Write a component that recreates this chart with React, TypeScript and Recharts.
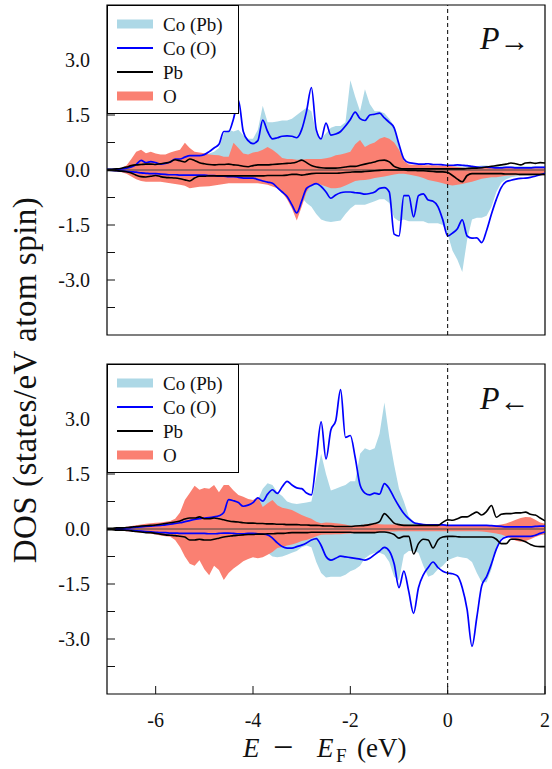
import React from 'react';
import {
  ComposedChart,
  Area,
  Line,
  XAxis,
  YAxis,
  ReferenceLine,
  ReferenceArea,
  Legend,
} from 'recharts';

const FONT = "'Liberation Serif', 'Times New Roman', 'DejaVu Serif', serif";
const LIGHT_BLUE = '#ADD8E6';
const BLUE = '#0000FF';
const SALMON = '#FA8072';
const INK = '#111';
const txt = { fontFamily: FONT };

// energy grid, E - E_F in eV
const energy = [
  -7.0, -6.9, -6.8, -6.7, -6.6, -6.5, -6.4, -6.3, -6.2, -6.1,
  -6.0, -5.9, -5.8, -5.7, -5.6, -5.5, -5.4, -5.3, -5.2, -5.1,
  -5.0, -4.9, -4.8, -4.7, -4.6, -4.5, -4.4, -4.3, -4.2, -4.1,
  -4.0, -3.9, -3.8, -3.7, -3.6, -3.5, -3.4, -3.3, -3.2, -3.1,
  -3.0, -2.9, -2.8, -2.7, -2.6, -2.5, -2.4, -2.3, -2.2, -2.1,
  -2.0, -1.9, -1.8, -1.7, -1.6, -1.5, -1.4, -1.3, -1.2, -1.1,
  -1.0, -0.9, -0.8, -0.7, -0.6, -0.5, -0.4, -0.3, -0.2, -0.1,
  0.0, 0.1, 0.2, 0.3, 0.4, 0.5, 0.6, 0.7, 0.8, 0.9,
  1.0, 1.1, 1.2, 1.3, 1.4, 1.5, 1.6, 1.7, 1.8, 1.9,
  2.0,
];

// ---- P-> panel (top) ----
const topCoPbUp = [
  0.01, 0.01, 0.02, 0.03, 0.05, 0.08, 0.12, 0.15, 0.15, 0.16,
  0.18, 0.2, 0.2, 0.22, 0.25, 0.27, 0.3, 0.3, 0.32, 0.35,
  0.38, 0.45, 0.5, 0.6, 1.0, 1.1, 1.05, 1.1, 0.95, 0.85,
  0.85, 1.1, 1.75, 1.3, 1.3, 1.32, 1.35, 1.35, 1.4, 1.5,
  1.6, 1.7, 1.6, 1.0, 0.85, 1.0, 1.15, 1.2, 1.2, 1.3,
  2.45, 2.0, 1.6, 2.2, 1.8, 1.6, 1.6, 1.55, 1.4, 1.2,
  0.7, 0.2, 0.12, 0.1, 0.1, 0.1, 0.1, 0.1, 0.1, 0.1,
  0.1, 0.1, 0.1, 0.1, 0.1, 0.1, 0.1, 0.12, 0.12, 0.1,
  0.1, 0.1, 0.1, 0.1, 0.1, 0.1, 0.1, 0.1, 0.1, 0.1,
  0.1,
];
const topCoPbDn = [
  -0.01, -0.01, -0.02, -0.03, -0.04, -0.05, -0.07, -0.1, -0.12, -0.13,
  -0.14, -0.15, -0.16, -0.17, -0.18, -0.2, -0.22, -0.24, -0.25, -0.26,
  -0.27, -0.28, -0.28, -0.3, -0.3, -0.3, -0.3, -0.3, -0.3, -0.3,
  -0.3, -0.32, -0.34, -0.36, -0.38, -0.4, -0.45, -0.5, -0.55, -0.65,
  -0.75, -0.9, -1.0, -1.2, -1.35, -1.4, -1.42, -1.4, -1.38, -1.2,
  -1.05, -0.95, -0.95, -0.95, -0.9, -0.85, -0.8, -0.8, -0.9, -1.3,
  -1.4, -1.35, -1.4, -1.4, -1.4, -1.4, -1.45, -1.45, -1.45, -1.5,
  -1.75, -2.2, -2.45, -2.78, -1.9, -1.35, -1.3, -1.3, -1.25, -1.0,
  -0.6, -0.35, -0.25, -0.2, -0.18, -0.16, -0.15, -0.15, -0.14, -0.14,
  -0.14,
];
const topCoOUp = [
  0.02, 0.02, 0.02, 0.03, 0.05, 0.08, 0.15, 0.26, 0.2, 0.23,
  0.2, 0.16, 0.18, 0.22, 0.3, 0.3, 0.35, 0.39, 0.39, 0.39,
  0.42, 0.5, 0.6, 0.7, 1.05, 1.05, 1.4, 1.9, 1.05, 0.8,
  0.72, 0.8, 1.36, 1.05, 0.85, 0.88, 0.92, 0.93, 0.92, 0.88,
  1.1, 1.6, 2.25, 1.1, 0.85, 1.28, 0.95, 0.98, 1.05, 1.2,
  1.38, 1.58, 1.4, 1.35, 1.5, 1.52, 1.55, 1.42, 1.3, 1.15,
  0.7, 0.3, 0.2, 0.18, 0.16, 0.16, 0.17, 0.15, 0.15, 0.14,
  0.13, 0.13, 0.14, 0.13, 0.12, 0.1, 0.08, 0.07, 0.08, 0.07,
  0.06, 0.06, 0.07, 0.07, 0.06, 0.06, 0.06, 0.06, 0.07, 0.07,
  0.07,
];
const topCoODn = [
  0, -0.01, -0.02, -0.03, -0.04, -0.05, -0.06, -0.08, -0.09, -0.1,
  -0.1, -0.11, -0.12, -0.13, -0.13, -0.14, -0.14, -0.14, -0.14, -0.14,
  -0.14, -0.15, -0.15, -0.17, -0.17, -0.18, -0.18, -0.2, -0.22, -0.22,
  -0.22, -0.26, -0.3, -0.33, -0.36, -0.48, -0.6, -0.72, -0.95, -1.17,
  -0.85, -0.5, -0.42, -0.37, -0.45, -0.6, -0.77, -0.68, -0.62, -0.6,
  -0.6, -0.62, -0.63, -0.66, -0.64, -0.6, -0.5, -0.48, -0.6, -1.75,
  -1.8, -0.7, -0.7, -1.28, -0.7, -0.65, -0.82, -0.85, -1.0, -1.36,
  -1.8, -1.72, -1.6, -1.36, -1.8, -1.86, -1.85, -1.98, -1.65, -1.2,
  -0.8, -0.48, -0.32, -0.28, -0.25, -0.23, -0.22, -0.2, -0.17, -0.13,
  -0.09,
];
const topPbUp = [
  0.02, 0.02, 0.03, 0.05, 0.08, 0.12, 0.14, 0.15, 0.16, 0.16,
  0.15, 0.17, 0.19, 0.22, 0.28, 0.25, 0.22, 0.3, 0.26, 0.2,
  0.17, 0.15, 0.14, 0.15, 0.15, 0.16, 0.14, 0.13, 0.1, 0.09,
  0.12, 0.14, 0.14, 0.14, 0.15, 0.16, 0.17, 0.18, 0.19, 0.22,
  0.27, 0.2, 0.12, 0.08, 0.06, 0.05, 0.05, 0.05, 0.06, 0.08,
  0.1, 0.1, 0.13, 0.16, 0.19, 0.22, 0.26, 0.27, 0.22, 0.1,
  0.05, 0.03, 0.03, 0.03, 0.03, 0.03, 0.03, 0.03, 0.03, 0.03,
  0.03, 0.03, 0.03, 0.03, 0.04, 0.05, 0.05, 0.06, 0.08, 0.1,
  0.12, 0.14, 0.16, 0.19, 0.17, 0.14, 0.19, 0.2, 0.18, 0.2,
  0.19,
];
const topPbDn = [
  -0.01, -0.01, -0.02, -0.03, -0.05, -0.08, -0.14, -0.18, -0.19, -0.17,
  -0.15, -0.18, -0.2, -0.21, -0.22, -0.24, -0.27, -0.3, -0.22, -0.17,
  -0.17, -0.16, -0.16, -0.16, -0.16, -0.16, -0.16, -0.16, -0.16, -0.16,
  -0.16, -0.16, -0.16, -0.15, -0.15, -0.15, -0.15, -0.14, -0.12, -0.12,
  -0.14, -0.12, -0.1, -0.09, -0.09, -0.09, -0.09, -0.09, -0.08, -0.07,
  -0.06, -0.05, -0.05, -0.04, -0.03, -0.02, -0.01, 0, 0, 0,
  0, 0, -0.01, -0.01, -0.02, -0.02, -0.03, -0.04, -0.05, -0.05,
  -0.07, -0.15, -0.25, -0.32, -0.15, -0.1, -0.1, -0.1, -0.1, -0.1,
  -0.1, -0.1, -0.11, -0.11, -0.11, -0.12, -0.12, -0.12, -0.12, -0.12,
  -0.12,
];
const topOUp = [
  0.03, 0.03, 0.04, 0.06, 0.12, 0.3, 0.5, 0.55, 0.46, 0.5,
  0.45, 0.42, 0.42, 0.48, 0.52, 0.55, 0.74, 0.6, 0.5, 0.48,
  0.46, 0.42, 0.41, 0.4, 0.36, 0.36, 0.74, 0.6, 0.45, 0.42,
  0.48, 0.5, 0.55, 0.63, 0.55, 0.45, 0.33, 0.3, 0.3, 0.28,
  0.28, 0.3, 0.3, 0.3, 0.3, 0.32, 0.35, 0.4, 0.42, 0.46,
  0.5, 0.7, 0.82, 0.63, 0.7, 0.75, 0.85, 0.9, 0.85, 0.75,
  0.55, 0.25, 0.15, 0.14, 0.14, 0.13, 0.13, 0.13, 0.12, 0.12,
  0.12, 0.1, 0.08, 0.07, 0.06, 0.06, 0.06, 0.06, 0.06, 0.06,
  0.06, 0.06, 0.06, 0.06, 0.06, 0.05, 0.05, 0.05, 0.05, 0.05,
  0.05,
];
const topODn = [
  -0.02, -0.03, -0.04, -0.06, -0.1, -0.18, -0.25, -0.3, -0.32, -0.32,
  -0.32, -0.32, -0.34, -0.36, -0.38, -0.4, -0.43, -0.5, -0.48, -0.46,
  -0.45, -0.44, -0.42, -0.4, -0.38, -0.36, -0.36, -0.36, -0.36, -0.36,
  -0.36, -0.36, -0.38, -0.4, -0.45, -0.5, -0.62, -0.8, -1.05, -1.38,
  -1.0, -0.6, -0.4, -0.36, -0.4, -0.45, -0.5, -0.5, -0.48, -0.42,
  -0.36, -0.3, -0.28, -0.27, -0.25, -0.22, -0.2, -0.18, -0.15, -0.12,
  -0.1, -0.1, -0.12, -0.15, -0.18, -0.22, -0.27, -0.3, -0.33, -0.36,
  -0.4, -0.42, -0.4, -0.38, -0.35, -0.32, -0.28, -0.24, -0.22, -0.2,
  -0.2, -0.18, -0.16, -0.15, -0.14, -0.14, -0.14, -0.14, -0.14, -0.14,
  -0.14,
];

// ---- P<- panel (bottom) ----
const botCoPbUp = [
  0.0, 0.01, 0.01, 0.02, 0.03, 0.04, 0.05, 0.06, 0.07, 0.08,
  0.09, 0.1, 0.12, 0.14, 0.16, 0.2, 0.25, 0.3, 0.32, 0.35,
  0.38, 0.4, 0.42, 0.45, 0.5, 0.55, 0.6, 0.62, 0.65, 0.68,
  0.72, 0.8, 1.1, 1.25, 1.2, 1.0, 0.9, 0.75, 0.7, 0.68,
  0.7, 0.72, 0.75, 1.4, 2.05, 1.5, 1.05, 1.1, 1.15, 1.2,
  1.3, 1.3, 2.05, 2.2, 2.15, 2.2, 2.6, 3.45, 2.5, 1.75,
  1.1, 0.75, 0.35, 0.2, 0.15, 0.12, 0.1, 0.1, 0.1, 0.1,
  0.08, 0.08, 0.08, 0.08, 0.07, 0.07, 0.07, 0.07, 0.07, 0.07,
  0.07, 0.07, 0.07, 0.07, 0.07, 0.07, 0.07, 0.07, 0.07, 0.07,
  0.07,
];
const botCoPbDn = [
  0, -0.01, -0.01, -0.02, -0.03, -0.04, -0.05, -0.06, -0.07, -0.08,
  -0.09, -0.1, -0.12, -0.14, -0.16, -0.2, -0.25, -0.28, -0.3, -0.32,
  -0.33, -0.34, -0.35, -0.36, -0.36, -0.36, -0.36, -0.36, -0.36, -0.36,
  -0.38, -0.4, -0.5, -0.65, -0.75, -0.77, -0.75, -0.7, -0.65, -0.6,
  -0.5, -0.45, -0.5, -0.9, -1.2, -1.32, -1.3, -1.3, -1.3, -1.25,
  -1.15, -1.1, -1.0, -0.8, -0.7, -0.65, -0.65, -0.7, -0.9, -1.3,
  -1.4, -0.7, -0.6, -0.6, -0.65, -1.0, -1.3, -1.25, -1.1, -1.0,
  -0.85, -0.8, -0.75, -0.78, -0.8, -0.9, -1.2, -1.45, -1.45, -1.1,
  -0.5, -0.25, -0.18, -0.16, -0.15, -0.15, -0.15, -0.15, -0.15, -0.15,
  -0.15,
];
const botCoOUp = [
  0, 0, 0.01, 0.02, 0.03, 0.04, 0.05, 0.06, 0.07, 0.08,
  0.09, 0.1, 0.11, 0.13, 0.15, 0.17, 0.2, 0.23, 0.26, 0.28,
  0.3, 0.31, 0.33, 0.36, 0.45, 0.8, 0.77, 0.72, 0.62, 0.65,
  0.72, 0.85, 0.76, 0.95, 1.07, 0.97, 1.15, 1.3, 1.2, 1.12,
  1.1, 0.98, 0.93, 1.9, 2.92, 1.91, 2.7, 2.95, 3.8, 2.5,
  2.55, 1.95, 1.2, 0.98, 0.93, 0.98, 0.95, 1.24, 1.1, 0.85,
  0.62, 0.42, 0.28, 0.18, 0.14, 0.12, 0.11, 0.11, 0.11, 0.11,
  0.1, 0.1, 0.1, 0.1, 0.1, 0.1, 0.1, 0.1, 0.1, 0.09,
  0.08, 0.07, 0.06, 0.06, 0.06, 0.06, 0.06, 0.06, 0.07, 0.08,
  0.08,
];
const botCoODn = [
  0, 0, -0.01, -0.02, -0.03, -0.04, -0.05, -0.06, -0.07, -0.08,
  -0.09, -0.1, -0.1, -0.11, -0.11, -0.12, -0.12, -0.12, -0.12, -0.12,
  -0.12, -0.13, -0.13, -0.12, -0.11, -0.11, -0.12, -0.13, -0.13, -0.12,
  -0.12, -0.13, -0.14, -0.16, -0.25, -0.38, -0.48, -0.52, -0.52, -0.48,
  -0.44, -0.38, -0.3, -0.26, -0.45, -0.75, -0.85, -0.8, -0.74, -0.76,
  -0.78, -0.8, -0.82, -0.85, -0.8, -0.7, -0.6, -0.5, -0.6, -0.95,
  -1.6, -1.15, -1.7, -2.3, -1.6, -1.25, -1.05, -0.9, -1.05, -1.15,
  -1.2, -1.22, -1.28, -1.6, -2.2, -3.2, -2.4, -1.55, -1.3, -0.95,
  -0.55, -0.3, -0.22, -0.2, -0.2, -0.2, -0.2, -0.2, -0.17, -0.12,
  -0.08,
];
const botPbUp = [
  0.02, 0.02, 0.03, 0.03, 0.04, 0.05, 0.07, 0.08, 0.09, 0.1,
  0.11, 0.13, 0.15, 0.17, 0.19, 0.22, 0.27, 0.3, 0.3, 0.33,
  0.28, 0.28, 0.3, 0.28, 0.25, 0.22, 0.2, 0.19, 0.17, 0.16,
  0.16, 0.15, 0.15, 0.14, 0.14, 0.13, 0.13, 0.12, 0.12, 0.12,
  0.11, 0.11, 0.1, 0.1, 0.09, 0.08, 0.08, 0.07, 0.07, 0.07,
  0.07, 0.08, 0.09, 0.1, 0.12, 0.15, 0.2, 0.42, 0.3, 0.16,
  0.12, 0.1, 0.1, 0.1, 0.1, 0.1, 0.1, 0.1, 0.1, 0.18,
  0.25, 0.24, 0.28, 0.33, 0.33, 0.4, 0.46, 0.38, 0.48, 0.64,
  0.32, 0.4, 0.42, 0.42, 0.44, 0.44, 0.46, 0.4, 0.38, 0.3,
  0.22,
];
const botPbDn = [
  -0.02, -0.02, -0.03, -0.03, -0.04, -0.05, -0.07, -0.08, -0.1, -0.1,
  -0.12, -0.14, -0.16, -0.17, -0.18, -0.2, -0.22, -0.3, -0.3, -0.28,
  -0.3, -0.3, -0.28, -0.25, -0.22, -0.2, -0.18, -0.17, -0.16, -0.15,
  -0.15, -0.14, -0.14, -0.13, -0.13, -0.12, -0.12, -0.11, -0.1, -0.1,
  -0.1, -0.1, -0.09, -0.09, -0.09, -0.09, -0.09, -0.09, -0.09, -0.09,
  -0.09, -0.1, -0.1, -0.1, -0.1, -0.1, -0.08, -0.08, -0.1, -0.15,
  -0.25, -0.2, -0.2, -0.68, -0.4, -0.28, -0.3, -0.52, -0.3, -0.22,
  -0.2, -0.2, -0.21, -0.22, -0.22, -0.22, -0.22, -0.22, -0.22, -0.22,
  -0.28, -0.4, -0.4, -0.28, -0.28, -0.3, -0.35, -0.42, -0.47, -0.48,
  -0.48,
];
const botOUp = [
  0.01, 0.02, 0.03, 0.04, 0.06, 0.08, 0.1, 0.12, 0.14, 0.16,
  0.17, 0.18, 0.2, 0.22, 0.28, 0.45, 0.79, 0.98, 1.18, 1.07,
  1.12, 1.1, 1.2, 1.0, 1.2, 1.2, 1.05, 0.93, 0.88, 0.82,
  0.79, 0.87, 0.6, 0.7, 0.79, 0.65, 0.58, 0.55, 0.52, 0.45,
  0.38, 0.33, 0.28, 0.2, 0.16, 0.18, 0.17, 0.16, 0.14, 0.12,
  0.09, 0.09, 0.1, 0.12, 0.14, 0.14, 0.13, 0.12, 0.12, 0.12,
  0.12, 0.12, 0.11, 0.1, 0.1, 0.1, 0.1, 0.1, 0.1, 0.1,
  0.1, 0.1, 0.1, 0.1, 0.1, 0.1, 0.1, 0.1, 0.1, 0.1,
  0.1, 0.12, 0.15, 0.2, 0.25, 0.3, 0.33, 0.32, 0.25, 0.18,
  0.14,
];
const botODn = [
  -0.01, -0.02, -0.03, -0.04, -0.06, -0.07, -0.09, -0.1, -0.11, -0.13,
  -0.15, -0.18, -0.2, -0.21, -0.3, -0.49, -0.75, -0.95, -1.0, -0.85,
  -1.1, -1.26, -1.0, -1.12, -1.39, -1.2, -1.08, -0.98, -0.88, -0.82,
  -0.77, -0.8, -0.77, -0.7, -0.63, -0.52, -0.49, -0.45, -0.42, -0.38,
  -0.33, -0.3, -0.25, -0.2, -0.16, -0.15, -0.15, -0.14, -0.14, -0.13,
  -0.12, -0.11, -0.1, -0.1, -0.1, -0.09, -0.08, -0.07, -0.07, -0.07,
  -0.06, -0.06, -0.06, -0.06, -0.06, -0.06, -0.06, -0.06, -0.06, -0.06,
  -0.06, -0.06, -0.06, -0.06, -0.06, -0.06, -0.06, -0.07, -0.08, -0.1,
  -0.12, -0.15, -0.2, -0.25, -0.32, -0.35, -0.33, -0.28, -0.22, -0.17,
  -0.14,
];

const xTicks = [-6, -4, -2, 0, 2];
const yTicks = [-3.75, -3, -2.25, -1.5, -0.75, 0, 0.75, 1.5, 2.25, 3, 3.75];
const yLabelled = [-3, -1.5, 0, 1.5, 3];

const legendItems = [
  { label: 'Co (Pb)', color: LIGHT_BLUE, kind: 'patch' },
  { label: 'Co (O)', color: BLUE, kind: 'line' },
  { label: 'Pb', color: '#000', kind: 'line' },
  { label: 'O', color: SALMON, kind: 'patch' },
];

type Series = {
  coPbUp: number[];
  coPbDn: number[];
  coOUp: number[];
  coODn: number[];
  pbUp: number[];
  pbDn: number[];
  oUp: number[];
  oDn: number[];
};

const toRows = (s: Series) =>
  energy.map((e, i) => ({
    e,
    coPbUp: s.coPbUp[i],
    coPbDn: s.coPbDn[i],
    coOUp: s.coOUp[i],
    coODn: s.coODn[i],
    pbUp: s.pbUp[i],
    pbDn: s.pbDn[i],
    oUp: s.oUp[i],
    oDn: s.oDn[i],
  }));

const topRows = toRows({
  coPbUp: topCoPbUp, coPbDn: topCoPbDn, coOUp: topCoOUp, coODn: topCoODn,
  pbUp: topPbUp, pbDn: topPbDn, oUp: topOUp, oDn: topODn,
});
const bottomRows = toRows({
  coPbUp: botCoPbUp, coPbDn: botCoPbDn, coOUp: botCoOUp, coODn: botCoODn,
  pbUp: botPbUp, pbDn: botPbDn, oUp: botOUp, oDn: botODn,
});

// inward tick marks, labels only on the 1.5 steps
const YTick = (props: any) => {
  const { x, y, payload } = props;
  const v = payload.value;
  return (
    <g>
      <line x1={x} x2={x + 8} y1={y} y2={y} stroke={INK} strokeWidth={1} />
      {yLabelled.includes(v) && (
        <text x={x - 17} y={y + 7} textAnchor="end" style={txt} fontSize={20} fill={INK}>
          {v.toFixed(1)}
        </text>
      )}
    </g>
  );
};

const makeXTick = (withLabel: boolean) => (props: any) => {
  const { x, y, payload } = props;
  return (
    <g>
      <line x1={x} x2={x} y1={y - 8} y2={y} stroke={INK} strokeWidth={1} />
      {withLabel && (
        <text x={x} y={y + 33} textAnchor="middle" style={txt} fontSize={20} fill={INK}>
          {String(payload.value)}
        </text>
      )}
    </g>
  );
};

const LegendBox = () => (
  <svg width={132} height={109} style={{ display: 'block' }}>
    <rect x={0.5} y={0.5} width={131} height={108} fill="#fff" stroke="#000" strokeWidth={1} />
    {legendItems.map((it, i) => {
      const cy = 19 + i * 24;
      return (
        <g key={it.label}>
          {it.kind === 'patch' ? (
            <rect x={10} y={cy - 4.5} width={36} height={9} fill={it.color} />
          ) : (
            <line x1={10} x2={46} y1={cy} y2={cy} stroke={it.color} strokeWidth={2.2} />
          )}
          <text x={56} y={cy + 7} style={txt} fontSize={19} fill={INK}>
            {it.label}
          </text>
        </g>
      );
    })}
  </svg>
);

const Panel = ({
  rows,
  top,
  height,
  xAxisHeight,
  showXLabels,
}: {
  rows: any[];
  top: number;
  height: number;
  xAxisHeight: number;
  showXLabels: boolean;
}) => (
  <div style={{ position: 'absolute', left: 0, top }}>
    <ComposedChart
      width={552}
      height={height}
      data={rows}
      margin={{ top: 5, right: 7, bottom: 5, left: 7 }}
    >
      <XAxis
        dataKey="e"
        type="number"
        domain={[-7, 2]}
        ticks={xTicks}
        interval={0}
        allowDataOverflow
        axisLine={false}
        tickLine={false}
        tickSize={0}
        tickMargin={0}
        height={xAxisHeight}
        tick={makeXTick(showXLabels)}
      />
      <YAxis
        type="number"
        domain={[-4.5, 4.5]}
        ticks={yTicks}
        interval={0}
        allowDataOverflow
        width={100}
        axisLine={false}
        tickLine={false}
        tickSize={0}
        tickMargin={0}
        tick={YTick}
      />
      <Area type="linear" dataKey="coPbUp" baseValue={0} stroke="none" fill={LIGHT_BLUE} fillOpacity={1} isAnimationActive={false} />
      <Area type="linear" dataKey="coPbDn" baseValue={0} stroke="none" fill={LIGHT_BLUE} fillOpacity={1} isAnimationActive={false} />
      <Area type="linear" dataKey="oUp" baseValue={0} stroke="none" fill={SALMON} fillOpacity={1} isAnimationActive={false} />
      <Area type="linear" dataKey="oDn" baseValue={0} stroke="none" fill={SALMON} fillOpacity={1} isAnimationActive={false} />
      <ReferenceLine y={0} stroke="#444" strokeWidth={1} />
      <Line type="monotone" dataKey="coOUp" stroke={BLUE} strokeWidth={1.7} dot={false} activeDot={false} isAnimationActive={false} />
      <Line type="monotone" dataKey="coODn" stroke={BLUE} strokeWidth={1.7} dot={false} activeDot={false} isAnimationActive={false} />
      <Line type="monotone" dataKey="pbUp" stroke="#000" strokeWidth={1.6} dot={false} activeDot={false} isAnimationActive={false} />
      <Line type="monotone" dataKey="pbDn" stroke="#000" strokeWidth={1.6} dot={false} activeDot={false} isAnimationActive={false} />
      <ReferenceLine x={0} stroke="#000" strokeWidth={1} strokeDasharray="4 3" />
      <ReferenceArea x1={-7} x2={2} y1={-4.5} y2={4.5} fill="none" fillOpacity={0} stroke="#000" strokeWidth={1.2} />
      <Legend
        content={() => <LegendBox />}
        layout="vertical"
        align="center"
        verticalAlign="middle"
        wrapperStyle={{ left: 107, top: 5, width: 132, height: 109 }}
      />
    </ComposedChart>
  </div>
);

const PTag = ({ x, y, arrow }: { x: number; y: number; arrow: string }) => (
  <text x={x} y={y} style={txt} fontSize={32} fill={INK}>
    <tspan fontStyle="italic">P</tspan>
    <tspan fontSize={30} dy={2}>{arrow}</tspan>
  </text>
);

export default function App() {
  return (
    <div
      style={{
        position: 'absolute',
        left: 0,
        top: 0,
        width: 552,
        height: 769,
        background: '#fff',
        fontFamily: FONT,
      }}
    >
      <Panel rows={topRows} top={0} height={340} xAxisHeight={0} showXLabels={false} />
      <Panel rows={bottomRows} top={359} height={410} xAxisHeight={70} showXLabels />
      <svg
        width={552}
        height={769}
        style={{ position: 'absolute', left: 0, top: 0, pointerEvents: 'none' }}
      >
        <text
          transform="translate(36 380) rotate(-90)"
          textAnchor="middle"
          style={{ ...txt, letterSpacing: 0.5 }}
          fontSize={33}
          fill={INK}
        >
          DOS (states/eV atom spin)
        </text>
        <text y={757} style={txt} fontSize={27} fill={INK}>
          <tspan x={243} fontStyle="italic">E</tspan>
          <tspan x={273} fontSize={36} dy={2}>−</tspan>
          <tspan x={317} fontStyle="italic" dy={-2}>E</tspan>
          <tspan x={336} fontSize={19} dy={5}>F</tspan>
          <tspan x={357} dy={-5}>(eV)</tspan>
        </text>
        <PTag x={480} y={49} arrow="→" />
        <PTag x={480} y={409} arrow="←" />
      </svg>
    </div>
  );
}
